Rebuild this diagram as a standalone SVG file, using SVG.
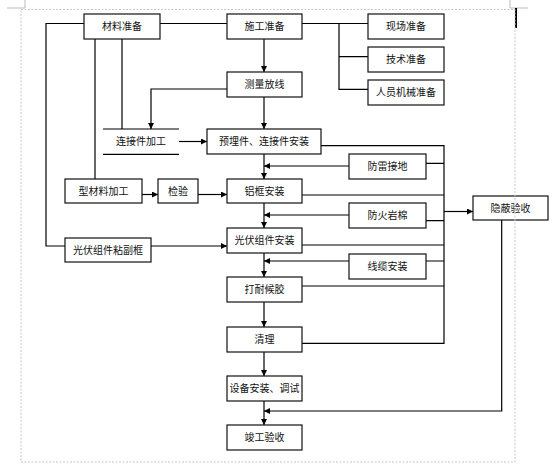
<svg xmlns="http://www.w3.org/2000/svg" width="559" height="467" viewBox="0 0 559 467">
<style>
.box{fill:#fff;stroke:#111;stroke-width:1.2}
.t{font-family:"Noto Sans CJK SC","Liberation Sans",sans-serif;font-size:10px;fill:#111;text-anchor:middle}
.c{fill:none;stroke:#000;stroke-width:1.2}
.pg{fill:none;stroke:#c8c8c8;stroke-width:1;stroke-dasharray:2,1.5}
.mk{fill:none;stroke:#bbb;stroke-width:1}
</style>
<defs>
<marker id="a" markerUnits="userSpaceOnUse" markerWidth="7" markerHeight="7" refX="6" refY="3" orient="auto">
<path d="M0,0 L6,3 L0,6 z" fill="#000"/>
</marker>
</defs>
<rect width="559" height="467" fill="#fff"/>
<g id="page">
<path class="mk" d="M7,8 H25 V0 M510,0 V8 H528"/>
<rect x="515" y="8" width="2" height="20" fill="#000"/>
</g>
<g id="connectors">
<path class="c" d="M160,23.5 H227"/>
<path class="c" d="M302,23.5 H368 M339,23.5 V89.3 H368 M339,56.7 H368"/>
<path class="c" d="M84,23.5 H46 V246 H65"/>
<path class="c" d="M95,39 V179"/>
<path class="c" d="M122,39 V129"/>
<path class="c" d="M264,39 V72" marker-end="url(#a)"/>
<path class="c" d="M227,89 H151 V129" marker-end="url(#a)"/>
<path class="c" d="M264,97 V129" marker-end="url(#a)"/>
<path class="c" d="M179,141.5 H207" marker-end="url(#a)"/>
<path class="c" d="M264,154 V179" marker-end="url(#a)"/>
<path class="c" d="M142,194.5 H158" marker-end="url(#a)"/>
<path class="c" d="M198,194.5 H227" marker-end="url(#a)"/>
<path class="c" d="M264,203 V228" marker-end="url(#a)"/>
<path class="c" d="M151,246 H227" marker-end="url(#a)"/>
<path class="c" d="M264,253 V277" marker-end="url(#a)"/>
<path class="c" d="M264,302 V327" marker-end="url(#a)"/>
<path class="c" d="M264,352 V376" marker-end="url(#a)"/>
<path class="c" d="M264,401 V425" marker-end="url(#a)"/>
<path class="c" d="M349,166 H264" marker-end="url(#a)"/>
<path class="c" d="M349,215 H264" marker-end="url(#a)"/>
<path class="c" d="M349,261 H264" marker-end="url(#a)"/>
<path class="c" d="M321,145.7 H444 V343.3 H302"/>
<path class="c" d="M426,163.3 H444 M302,195 H444 M426,220.7 H444 M302,245 H444 M426,261 H444 M302,286 H444"/>
<path class="c" d="M444,211.5 H473" marker-end="url(#a)"/>
<path class="c" d="M501.7,220 V411 H264" marker-end="url(#a)"/>
</g>
<g id="n1"><rect class="box" x="84" y="14" width="76" height="25"/><text class="t" x="122" y="30">材料准备</text></g>
<g id="n2"><rect class="box" x="227" y="14" width="75" height="25"/><text class="t" x="264.5" y="30">施工准备</text></g>
<g id="n3"><rect class="box" x="368" y="14" width="76" height="25"/><text class="t" x="406" y="30">现场准备</text></g>
<g id="n4"><rect class="box" x="368" y="47" width="76" height="25"/><text class="t" x="406" y="63">技术准备</text></g>
<g id="n5"><rect class="box" x="368" y="80" width="76" height="25"/><text class="t" x="406" y="96">人员机械准备</text></g>
<g id="n6"><rect class="box" x="227" y="72" width="75" height="25"/><text class="t" x="264.5" y="88">测量放线</text></g>
<g id="n7"><rect x="103" y="129" width="76" height="25" fill="#fff"/><path class="c" d="M103,129 H179 M103,154.3 H179"/><text class="t" x="141" y="145">连接件加工</text></g>
<g id="n8"><rect class="box" x="207" y="129" width="114" height="25"/><text class="t" x="264" y="145">预埋件、连接件安装</text></g>
<g id="n9"><rect class="box" x="349" y="154" width="77" height="25"/><text class="t" x="387.5" y="170">防雷接地</text></g>
<g id="n10"><rect class="box" x="65" y="179" width="77" height="24"/><text class="t" x="103.5" y="195">型材料加工</text></g>
<g id="n11"><rect class="box" x="158" y="179" width="40" height="24"/><text class="t" x="178" y="195">检验</text></g>
<g id="n12"><rect class="box" x="227" y="179" width="75" height="24"/><text class="t" x="264.5" y="195">铝框安装</text></g>
<g id="n13"><rect class="box" x="349" y="203" width="77" height="25"/><text class="t" x="387.5" y="219">防火岩棉</text></g>
<g id="n14"><rect class="box" x="473" y="196" width="75" height="24"/><text class="t" x="510.5" y="212">隐蔽验收</text></g>
<g id="n15"><rect class="box" x="227" y="228" width="75" height="25"/><text class="t" x="264.5" y="244">光伏组件安装</text></g>
<g id="n16"><rect class="box" x="65" y="238" width="86" height="24"/><text class="t" x="108" y="254">光伏组件粘副框</text></g>
<g id="n17"><rect class="box" x="349" y="254" width="77" height="25"/><text class="t" x="387.5" y="270">线缆安装</text></g>
<g id="n18"><rect class="box" x="227" y="277" width="75" height="25"/><text class="t" x="264.5" y="293">打耐候胶</text></g>
<g id="n19"><rect class="box" x="227" y="327" width="75" height="25"/><text class="t" x="264.5" y="343">清理</text></g>
<g id="n20"><rect class="box" x="227" y="376" width="75" height="25"/><text class="t" x="264.5" y="392">设备安装、调试</text></g>
<g id="n21"><rect class="box" x="227" y="425" width="75" height="25"/><text class="t" x="264.5" y="441">竣工验收</text></g>
<path class="pg" d="M21,9.5 H515 V462 H21 Z"/>
</svg>
